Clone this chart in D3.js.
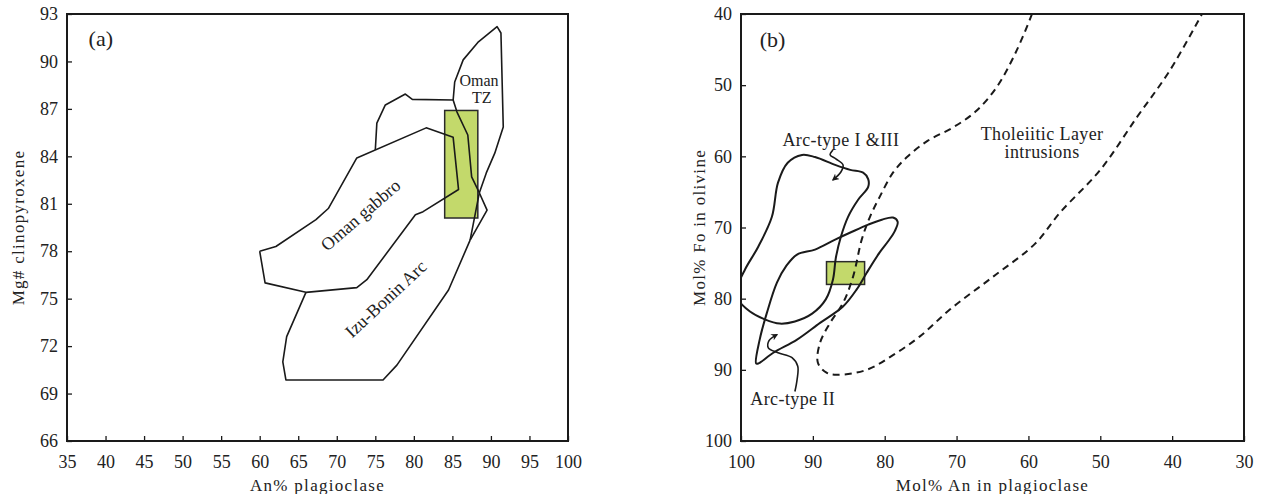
<!DOCTYPE html>
<html>
<head>
<meta charset="utf-8">
<script src="https://cdn.jsdelivr.net/npm/d3@7/dist/d3.min.js"></script>
<style>
  body { margin: 0; background: #fff; }
  text { font-family: "Liberation Serif", "Times New Roman", serif; fill: #222; }
</style>
</head>
<body>
<div id="chart"></div>
<script>
// ---- panel (a) data: An% plagioclase vs Mg# clinopyroxene
var aXTicks = [35, 40, 45, 50, 55, 60, 65, 70, 75, 80, 85, 90, 95, 100];
var aYTicks = [66, 69, 72, 75, 78, 81, 84, 87, 90, 93];

var omanGabbro = [[60.0, 78.0], [62.1, 78.3], [67.3, 80.0], [68.9, 80.7], [72.6, 83.9], [81.6, 85.8],
    [85.1, 85.2], [85.8, 81.9], [81.2, 80.5], [80.2, 80.3], [73.9, 76.2], [72.6, 75.7],
    [66.0, 75.4], [60.7, 76.0], [60.0, 78.0]];
var izuBonin = [[87.3, 78.7], [84.5, 75.55], [77.8, 70.8], [76.0, 69.86], [63.4, 69.86],
    [63.0, 71.0], [63.5, 72.6], [66.0, 75.4]];
var upperEdge = [[75.0, 84.4], [75.2, 86.1], [76.3, 87.25], [78.9, 87.94], [79.8, 87.6], [85.1, 87.56]];
var omanTZ = [[85.1, 87.56], [85.3, 88.7], [86.4, 90.1], [88.3, 91.2], [90.8, 92.2], [91.3, 91.8],
    [91.6, 85.85], [90.5, 84.2], [89.4, 82.95], [88.5, 81.7], [87.7, 79.7], [87.3, 78.7]];
var omanTZInner = [[85.1, 87.56], [85.6, 86.8], [87.0, 85.35], [87.5, 82.7], [88.3, 81.9], [89.5, 80.6], [87.3, 78.7]];
var aBox = [84.0, 88.3, 80.1, 86.9]; // An min, An max, Mg# min, Mg# max

// ---- panel (b) data: Mol% An in plagioclase vs Mol% Fo in olivine
var bXTicks = [100, 90, 80, 70, 60, 50, 40, 30];
var bYTicks = [40, 50, 60, 70, 80, 90, 100];

var tholeiitic = [[59.5, 40], [61.6, 45.05], [64.4, 50.25], [67.4, 53.75], [70.6, 56.0], [74.0, 57.8],
    [76.9, 60.1], [78.85, 62.3], [80.7, 65.7], [82.05, 68.5], [83.2, 71.7], [84.4, 76.9], [85.8, 80.6],
    [87.6, 83.4], [89.0, 86.2], [89.3, 89.0], [88.1, 90.4], [86.7, 90.7], [82.5, 90.0], [78.8, 87.9],
    [75.1, 85.3], [70.9, 81.5], [64.9, 76.9], [59.1, 72.3], [55.6, 67.9], [50.0, 61.9], [44.9, 54.5],
    [40.3, 47.9], [35.85, 40]];
var arcTypeI_III = [[99.44, 75.9], [97.6, 72.7], [95.7, 68.5], [94.85, 63.7], [93.5, 60.9], [91.5, 59.8],
    [89.7, 60.1], [86.9, 61.2], [84.8, 61.9], [83.0, 62.3], [82.3, 63.2], [82.3, 64.3], [83.7, 66.1],
    [85.1, 68.5], [86.1, 71.3], [86.8, 74.25], [87.2, 77.3], [88.2, 80.1], [90.1, 82.1], [92.5, 83.2],
    [94.6, 83.5], [96.7, 82.9], [98.75, 81.8], [100.4, 80.1], [100.6, 78.7]];
var arcTypeII = [[97.9, 89.1], [97.4, 85.75], [96.4, 82.0], [95.0, 77.75], [93.7, 75.4], [92.2, 73.8],
    [89.7, 73.1], [86.9, 71.7], [84.55, 70.6], [82.3, 69.6], [80.4, 68.9], [78.85, 68.6], [78.2, 69.2],
    [78.6, 70.5], [79.5, 71.9], [80.7, 73.5], [82.5, 76.35], [83.9, 78.7], [85.8, 81.1], [89.0, 83.4],
    [92.2, 85.75], [95.5, 87.6], [97.6, 89.1]];
var arrowI_III = [[87.2, 59.1], [87.6, 59.8], [86.8, 60.35], [85.8, 61.2], [86.1, 62.2], [87.2, 63.3]];
var arrowII = [[92.5, 93.05], [92.2, 91.4], [92.1, 89.5], [92.9, 88.3], [94.85, 87.6], [96.2, 86.9], [96.1, 85.9], [95.0, 85.05]];
var bBox = [82.8, 88.1, 74.8, 78.0]; // An min, An max, Fo min, Fo max

var ink = "#1a1a1a";
var boxFill = "#c3d96b";

var svg = d3.select("#chart").append("svg")
    .attr("width", 1266)
    .attr("height", 494)
    .style("background", "#fff");

var defs = svg.append("defs");
defs.append("marker")
    .attr("id", "head")
    .attr("viewBox", "0 0 10 10")
    .attr("refX", 8).attr("refY", 5)
    .attr("markerWidth", 7).attr("markerHeight", 7)
    .attr("markerUnits", "userSpaceOnUse")
    .attr("orient", "auto")
    .append("path")
    .attr("d", "M0,0 L10,5 L0,10 L3,5 z")
    .attr("fill", ink);

function drawFrame(x, y, xTicks, yTicks, xLabel, yLabel, yLabelX) {
    var x0 = Math.min(x.range()[0], x.range()[1]), x1 = Math.max(x.range()[0], x.range()[1]);
    var y0 = Math.min(y.range()[0], y.range()[1]), y1 = Math.max(y.range()[0], y.range()[1]);

    var gx = svg.append("g")
        .attr("transform", `translate(0,${y1})`)
        .call(d3.axisBottom(x).tickValues(xTicks).tickSize(-5).tickPadding(14));
    var gy = svg.append("g")
        .attr("transform", `translate(${x0},0)`)
        .call(d3.axisLeft(y).tickValues(yTicks).tickSize(-5).tickPadding(9));

    [gx, gy].forEach(g => {
        g.attr("font-family", null).attr("font-size", 18).attr("color", ink);
        g.select(".domain").remove();
        g.selectAll(".tick line").attr("stroke-width", 1.3);
    });

    svg.append("rect")
        .attr("x", x0).attr("y", y0)
        .attr("width", x1 - x0).attr("height", y1 - y0)
        .attr("fill", "none")
        .attr("stroke", ink)
        .attr("stroke-width", 2);

    svg.append("text")
        .attr("x", (x0 + x1) / 2).attr("y", 491)
        .attr("text-anchor", "middle")
        .style("font-size", "17px")
        .style("letter-spacing", "1.3px")
        .text(xLabel);

    svg.append("text")
        .attr("transform", `translate(${yLabelX},${(y0 + y1) / 2}) rotate(-90)`)
        .attr("text-anchor", "middle")
        .style("font-size", "17px")
        .style("letter-spacing", "1.3px")
        .text(yLabel);
}

// ================= panel (a)
var xa = d3.scaleLinear().domain([35, 100]).range([67, 568]);
var ya = d3.scaleLinear().domain([66, 93]).range([441, 14]);

svg.append("rect")
    .attr("x", xa(aBox[0])).attr("y", ya(aBox[3]))
    .attr("width", xa(aBox[1]) - xa(aBox[0]))
    .attr("height", ya(aBox[2]) - ya(aBox[3]))
    .attr("fill", boxFill)
    .attr("stroke", "#2a2a2a")
    .attr("stroke-width", 1.5);

var lineA = d3.line().x(d => xa(d[0])).y(d => ya(d[1]));

[omanGabbro, izuBonin, upperEdge, omanTZ, omanTZInner].forEach(pts => {
    svg.append("path")
        .attr("d", lineA(pts))
        .attr("fill", "none")
        .attr("stroke", ink)
        .attr("stroke-width", 1.6)
        .attr("stroke-linejoin", "round");
});

drawFrame(xa, ya, aXTicks, aYTicks, "An% plagioclase", "Mg# clinopyroxene", 24);

svg.append("text").attr("x", xa(37.8)).attr("y", ya(91.0)).style("font-size", "22px").text("(a)");
svg.append("text").attr("x", xa(88.45)).attr("y", ya(88.45)).attr("text-anchor", "middle").style("font-size", "16px").text("Oman");
svg.append("text").attr("x", xa(88.8)).attr("y", ya(87.4)).attr("text-anchor", "middle").style("font-size", "16px").text("TZ");
svg.append("text")
    .attr("transform", `translate(${xa(73.6)},${ya(80.0)}) rotate(-41)`)
    .attr("text-anchor", "middle")
    .style("font-size", "18px")
    .text("Oman gabbro");
svg.append("text")
    .attr("transform", `translate(${xa(76.9)},${ya(74.7)}) rotate(-43)`)
    .attr("text-anchor", "middle")
    .style("font-size", "18px")
    .text("Izu-Bonin Arc");

// ================= panel (b)
var xb = d3.scaleLinear().domain([100, 30]).range([741, 1244]);
var yb = d3.scaleLinear().domain([40, 100]).range([14, 441]);

defs.append("clipPath").attr("id", "clipB")
    .append("rect").attr("x", 741).attr("y", 14).attr("width", 503).attr("height", 427);

var plotB = svg.append("g").attr("clip-path", "url(#clipB)");

plotB.append("rect")
    .attr("x", xb(bBox[1])).attr("y", yb(bBox[2]))
    .attr("width", xb(bBox[0]) - xb(bBox[1]))
    .attr("height", yb(bBox[3]) - yb(bBox[2]))
    .attr("fill", boxFill)
    .attr("stroke", "#2a2a2a")
    .attr("stroke-width", 1.5);

var smoothOpen = d3.line().x(d => xb(d[0])).y(d => yb(d[1])).curve(d3.curveCatmullRom.alpha(0.5));
var smoothClosed = d3.line().x(d => xb(d[0])).y(d => yb(d[1])).curve(d3.curveCatmullRomClosed.alpha(0.5));

plotB.append("path")
    .attr("d", smoothOpen(tholeiitic))
    .attr("fill", "none")
    .attr("stroke", ink)
    .attr("stroke-width", 2)
    .attr("stroke-dasharray", "7,5");

[arcTypeI_III, arcTypeII].forEach(pts => {
    plotB.append("path")
        .attr("d", smoothClosed(pts))
        .attr("fill", "none")
        .attr("stroke", ink)
        .attr("stroke-width", 2);
});

[arrowI_III, arrowII].forEach(pts => {
    plotB.append("path")
        .attr("d", smoothOpen(pts))
        .attr("fill", "none")
        .attr("stroke", ink)
        .attr("stroke-width", 1.6)
        .attr("marker-end", "url(#head)");
});

drawFrame(xb, yb, bXTicks, bYTicks, "Mol% An in plagioclase", "Mol% Fo in olivine", 705);

svg.append("text").attr("x", xb(97.4)).attr("y", yb(44.6)).style("font-size", "22px").text("(b)");
svg.append("text").attr("x", xb(86.1)).attr("y", yb(58.5)).attr("text-anchor", "middle").style("font-size", "18px").style("letter-spacing", "0.4px").text("Arc-type I &III");
svg.append("text").attr("x", xb(58.1)).attr("y", yb(57.7)).attr("text-anchor", "middle").style("font-size", "18px").style("letter-spacing", "0.4px").text("Tholeiitic Layer");
svg.append("text").attr("x", xb(58.1)).attr("y", yb(60.2)).attr("text-anchor", "middle").style("font-size", "18px").style("letter-spacing", "0.4px").text("intrusions");
svg.append("text").attr("x", xb(98.7)).attr("y", yb(94.9)).style("font-size", "18px").style("letter-spacing", "0.4px").text("Arc-type II");
</script>
</body>
</html>
